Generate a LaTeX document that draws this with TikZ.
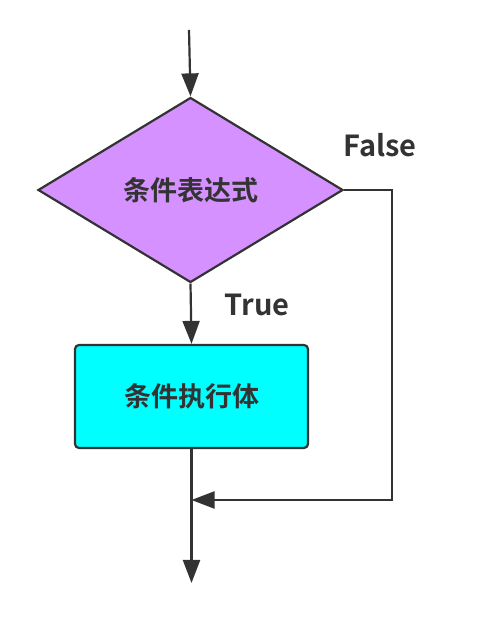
\documentclass[tikz,border=0pt]{standalone}
\usepackage{fontspec}
\setmainfont{Noto Sans CJK SC}[BoldFont={Noto Sans CJK SC Bold}]
\usetikzlibrary{shapes.geometric,arrows.meta}
\definecolor{linegray}{RGB}{51,51,51}
\definecolor{condfill}{RGB}{212,145,255}
\definecolor{bodyfill}{RGB}{0,255,255}
\tikzset{
  flow/.style={draw=linegray,line width=2.2pt,-{Triangle[length=23pt,width=17pt]}},
  label/.style={text=linegray,font=\bfseries\fontsize{29}{29}\selectfont},
}

\begin{document}
\begin{tikzpicture}[x=1pt,y=1pt]
\useasboundingbox (0,0) rectangle (496,620);
\coordinate (start) at (189,590);
\node[diamond,draw=linegray,line width=2.2pt,fill=condfill,minimum width=305pt,minimum height=185pt,inner sep=0pt,text=linegray,font=\bfseries\fontsize{27}{27}\selectfont] (cond) at (190.5,430) {条件表达式};
\node[rectangle,rounded corners=4pt,draw=linegray,line width=2.2pt,fill=bodyfill,minimum width=233pt,minimum height=103pt,text=linegray,font=\bfseries\fontsize{27}{27}\selectfont] (body) at (191.5,223.5) {条件执行体};
\coordinate (join) at (191.5,120);
\coordinate (corner) at (392,430);
\coordinate (exit) at (191.5,37);

\draw[flow] (start) -- (cond.north);
\draw[flow] (cond.south) -- (body.north);
\draw[flow,-] (body.south) -- (join);
\draw[flow] (join) -- (exit);
\draw[flow] (cond.east) -- (corner) |- (join);

\node[label] (falsetxt) at (380,475) {False};
\node[label] (truetxt) at (257,315) {True};
\end{tikzpicture}
\end{document}
